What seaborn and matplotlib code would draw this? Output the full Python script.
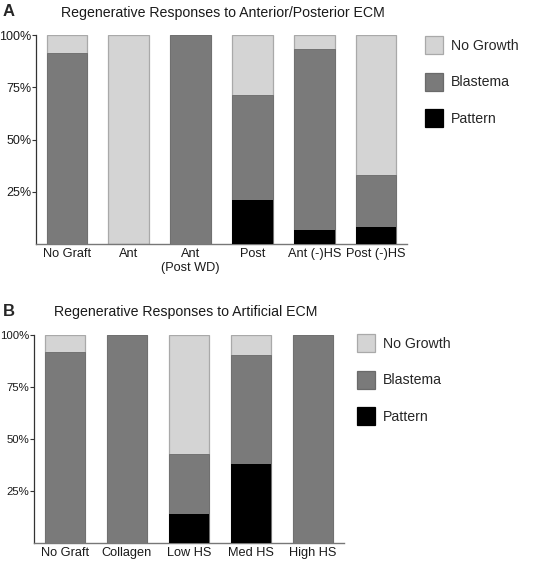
import numpy as np
import pandas as pd
import matplotlib
matplotlib.use("Agg")
import matplotlib.pyplot as plt
from matplotlib.patches import Patch
import seaborn as sns

sns.set_style("white")
plt.rcParams['font.family'] = ['Liberation Sans', 'DejaVu Sans']

# ---- data ----
cats_a = ["No Graft", "Ant", "Ant\n(Post WD)", "Post", "Ant (-)HS", "Post (-)HS"]
pattern_a = [0, 0, 0, 21, 6.5, 8]
blastema_a = [91.4, 0, 100, 50.3, 86.7, 25]
nogrowth_a = [8.6, 100, 0, 28.7, 6.8, 67]

cats_b = ["No Graft", "Collagen", "Low HS", "Med HS", "High HS"]
pattern_b = [0, 0, 14.1, 38.1, 0]
blastema_b = [91.6, 100, 28.8, 52.4, 100]
nogrowth_b = [8.4, 0, 57.1, 9.5, 0]

title_a = "Regenerative Responses to Anterior/Posterior ECM"
title_b = "Regenerative Responses to Artificial ECM"
legend_labels = ["No Growth", "Blastema", "Pattern"]
yticks = [25, 50, 75, 100]
ytick_labels = ["25%", "50%", "75%", "100%"]

C_NG = "#d4d4d4"
C_BL = "#7a7a7a"
C_PT = "#000000"
E_NG = "#a9a9a9"
E_BL = "#6a6a6a"

W, H = 540, 563
fig = plt.figure(figsize=(W / 100, H / 100), dpi=100)


def px_axes(left, top, right, bottom):
    return fig.add_axes([left / W, 1 - bottom / H, (right - left) / W, (bottom - top) / H])


def draw_panel(ax, cats, pat, bla, ng, ysize):
    pat = np.array(pat, float)
    bla = np.array(bla, float)
    ng = np.array(ng, float)
    total = pat + bla + ng
    cum_b = pat + bla
    df = pd.DataFrame({"cat": cats, "total": total, "cumb": cum_b, "pat": pat})
    sns.barplot(data=df, x="cat", y="total", order=cats, color=C_NG, saturation=1,
                width=0.66, edgecolor=E_NG, linewidth=0.9, ax=ax, zorder=2)
    sns.barplot(data=df, x="cat", y="cumb", order=cats, color=C_BL, saturation=1,
                width=0.66, edgecolor=E_BL, linewidth=0.6, ax=ax, zorder=3)
    sns.barplot(data=df, x="cat", y="pat", order=cats, color=C_PT, saturation=1,
                width=0.66, edgecolor="none", linewidth=0, ax=ax, zorder=4)
    ax.set_xlim(-0.5, len(cats) - 0.5)
    ax.set_ylim(0, 100)
    ax.set_xlabel("")
    ax.set_ylabel("")
    ax.set_yticks(yticks)
    ax.set_yticklabels(ytick_labels, fontsize=ysize, color="#1a1a1a")
    ax.tick_params(axis="y", direction="out", length=3, width=0.8, pad=0.2,
                   color="#333333", left=True)
    ax.tick_params(axis="x", length=0, pad=3, labelsize=9.2, labelcolor="#1a1a1a")
    for s in ["top", "right"]:
        ax.spines[s].set_visible(False)
    ax.spines["left"].set_color("#333333")
    ax.spines["left"].set_linewidth(0.9)
    ax.spines["bottom"].set_color("#777777")
    ax.spines["bottom"].set_linewidth(1.0)
    ax.patch.set_alpha(0)


def legend_handles():
    return [Patch(facecolor=C_NG, edgecolor=E_NG, linewidth=0.9),
            Patch(facecolor=C_BL, edgecolor=E_BL, linewidth=0.9),
            Patch(facecolor=C_PT, edgecolor=C_PT, linewidth=0.9)]


LEG_KW = dict(loc="upper left", frameon=False, fontsize=10.2,
              handlelength=1.3, handleheight=1.6, handletextpad=0.55,
              labelspacing=1.3, borderpad=0, borderaxespad=0)

# Panel A
axA = px_axes(36, 35, 407, 244)
draw_panel(axA, cats_a, pattern_a, blastema_a, nogrowth_a, 9)
fig.text(223 / W, 1 - 13 / H, title_a, ha="center", va="center", fontsize=10.2, color="#1a1a1a")
fig.text(3 / W, 1 - 11 / H, "A", ha="left", va="center", fontsize=12, fontweight="bold")
fig.legend(handles=legend_handles(), labels=legend_labels,
           bbox_to_anchor=(425 / W, 1 - 36 / H), **LEG_KW)

# Panel B
axB = px_axes(34, 335, 344, 543)
draw_panel(axB, cats_b, pattern_b, blastema_b, nogrowth_b, 8.2)
fig.text(186 / W, 1 - 312 / H, title_b, ha="center", va="center", fontsize=10.2, color="#1a1a1a")
fig.text(3 / W, 1 - 312 / H, "B", ha="left", va="center", fontsize=12, fontweight="bold")
fig.legend(handles=legend_handles(), labels=legend_labels,
           bbox_to_anchor=(357 / W, 1 - 334 / H), **LEG_KW)

fig.savefig("out.png", dpi=100)
